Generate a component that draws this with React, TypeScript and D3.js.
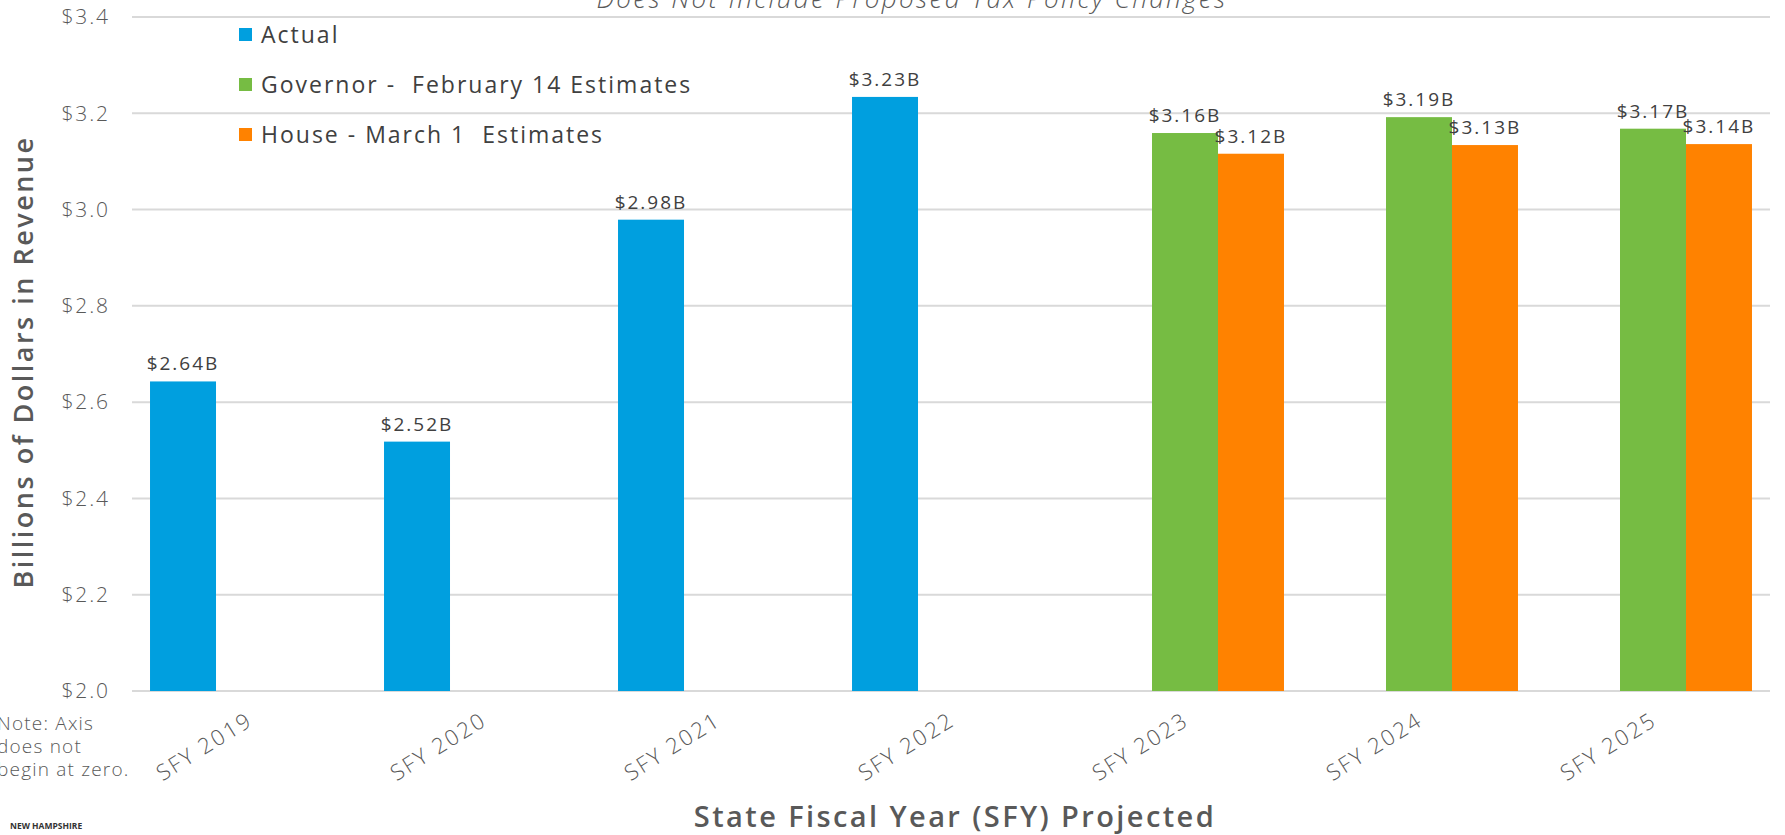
import React, { useEffect, useRef } from 'react';
import * as d3 from 'd3';

const categories = ['SFY 2019', 'SFY 2020', 'SFY 2021', 'SFY 2022', 'SFY 2023', 'SFY 2024', 'SFY 2025'];
const seriesNames = ['Actual', 'Governor -  February 14 Estimates', 'House - March 1  Estimates'];
const seriesColors = ['#009FDF', '#76BC43', '#FF8200'];
const actual = [2.643, 2.518, 2.979, 3.234, null, null, null];
const governor = [null, null, null, null, 3.159, 3.192, 3.168];
const house = [null, null, null, null, 3.116, 3.134, 3.136];
const valueLabels = [
    ['$2.64B', '$2.52B', '$2.98B', '$3.23B', '', '', ''],
    ['', '', '', '', '$3.16B', '$3.19B', '$3.17B'],
    ['', '', '', '', '$3.12B', '$3.13B', '$3.14B'],
];
const yTicks = [2.0, 2.2, 2.4, 2.6, 2.8, 3.0, 3.2, 3.4];
const noteLines = ['Note: Axis', 'does not', 'begin at zero.'];

const FONT = "'Open Sans', Lato, sans-serif";

export default function App() {
    const ref = useRef<SVGSVGElement>(null);
    const width = 1785;
    const height = 835;
    const margin = { top: 17, right: 15, bottom: 144, left: 132 };

    useEffect(() => {
        const svg = d3.select(ref.current);
        svg.selectAll('*').remove();

        const innerW = width - margin.left - margin.right;
        const innerH = height - margin.top - margin.bottom;

        const x0 = d3.scaleBand<string>()
            .domain(categories)
            .range([0, innerW])
            .paddingInner(0.154)
            .paddingOuter(0.077);
        const x1 = d3.scaleBand<number>()
            .domain([0, 1, 2])
            .range([0, x0.bandwidth()]);
        const y = d3.scaleLinear().domain([2.0, 3.4]).range([innerH, 0]);

        const g = svg.append('g').attr('transform', `translate(${margin.left},${margin.top})`);

        // grid
        g.append('g')
            .selectAll('line')
            .data(yTicks)
            .join('line')
            .attr('x1', 0)
            .attr('x2', innerW)
            .attr('y1', d => y(d))
            .attr('y2', d => y(d))
            .attr('stroke', '#D9D9D9')
            .attr('stroke-width', 2);

        g.append('g')
            .selectAll('text')
            .data(yTicks)
            .join('text')
            .attr('x', -22)
            .attr('y', d => y(d))
            .attr('dy', '0.35em')
            .attr('text-anchor', 'end')
            .attr('font-family', FONT)
            .attr('font-weight', 300)
            .attr('font-size', 21)
            .attr('letter-spacing', 1.9)
            .attr('fill', '#595959')
            .text(d => '$' + d.toFixed(1));

        const series = [actual, governor, house];
        series.forEach((vals, si) => {
            const data = categories.map((c, i) => ({ c, v: vals[i], label: valueLabels[si][i] }))
                .filter(d => d.v != null);
            const sg = g.append('g');
            sg.selectAll('rect')
                .data(data)
                .join('rect')
                .attr('x', d => (x0(d.c) as number) + (x1(si) as number))
                .attr('width', x1.bandwidth())
                .attr('y', d => y(d.v as number))
                .attr('height', d => innerH - y(d.v as number))
                .attr('fill', seriesColors[si]);
            sg.selectAll('text')
                .data(data)
                .join('text')
                .attr('x', d => (x0(d.c) as number) + (x1(si) as number) + x1.bandwidth() / 2)
                .attr('y', d => y(d.v as number) - 11)
                .attr('text-anchor', 'middle')
                .attr('font-family', FONT)
                .attr('font-size', 19)
                .attr('letter-spacing', 2)
                .attr('fill', '#404040')
                .text(d => d.label);
        });

        // x labels
        g.append('g')
            .selectAll('text')
            .data(categories)
            .join('text')
            .attr('transform', d => `translate(${(x0(d) as number) + x0.bandwidth() / 2 - 3},${innerH + 20}) rotate(-32)`)
            .attr('dy', '0.7em')
            .attr('text-anchor', 'end')
            .attr('font-family', FONT)
            .attr('font-weight', 300)
            .attr('font-size', 22)
            .attr('letter-spacing', 2.2)
            .attr('fill', '#595959')
            .text(d => d);

        // legend
        const lg = g.append('g').attr('transform', 'translate(107,11)');
        seriesNames.forEach((name, i) => {
            lg.append('rect')
                .attr('x', 0)
                .attr('y', i * 50)
                .attr('width', 13)
                .attr('height', 13)
                .attr('fill', seriesColors[i]);
            lg.append('text')
                .attr('x', 22)
                .attr('y', i * 50 + 6.5)
                .attr('dy', '0.35em')
                .attr('font-family', FONT)
                .attr('font-size', 23)
                .attr('letter-spacing', 2)
                .attr('fill', '#404040')
                .style('white-space', 'pre')
                .text(name);
        });

        // subtitle (cut off at top)
        svg.append('text')
            .attr('x', 912)
            .attr('y', 8)
            .attr('text-anchor', 'middle')
            .attr('font-family', FONT)
            .attr('font-style', 'italic')
            .attr('font-weight', 300)
            .attr('font-size', 26)
            .attr('letter-spacing', 2.4)
            .attr('fill', '#595959')
            .text('Does Not Include Proposed Tax Policy Changes');

        // axis titles
        svg.append('text')
            .attr('transform', `translate(33,${margin.top + innerH / 2 + 8}) rotate(-90)`)
            .attr('text-anchor', 'middle')
            .attr('font-family', FONT)
            .attr('font-weight', 600)
            .attr('font-size', 27)
            .attr('letter-spacing', 2.5)
            .attr('fill', '#595959')
            .text('Billions of Dollars in Revenue');

        svg.append('text')
            .attr('x', 955)
            .attr('y', 827)
            .attr('text-anchor', 'middle')
            .attr('font-family', FONT)
            .attr('font-weight', 600)
            .attr('font-size', 29)
            .attr('letter-spacing', 2.4)
            .attr('fill', '#595959')
            .text('State Fiscal Year (SFY) Projected');

        // note
        svg.append('g')
            .selectAll('text')
            .data(noteLines)
            .join('text')
            .attr('x', -3)
            .attr('y', (d, i) => 730 + i * 23)
            .attr('font-family', FONT)
            .attr('font-weight', 300)
            .attr('font-size', 19)
            .attr('letter-spacing', 1.2)
            .attr('fill', '#595959')
            .text(d => d);

        svg.append('text')
            .attr('x', 10)
            .attr('y', 829)
            .attr('font-family', FONT)
            .attr('font-weight', 700)
            .attr('font-size', 8.5)
            .attr('fill', '#333333')
            .text('NEW HAMPSHIRE');
    }, []);

    return (
        <svg
            ref={ref}
            width={width}
            height={height}
            style={{ position: 'absolute', left: 0, top: 0, background: '#fff' }}
        />
    );
}
